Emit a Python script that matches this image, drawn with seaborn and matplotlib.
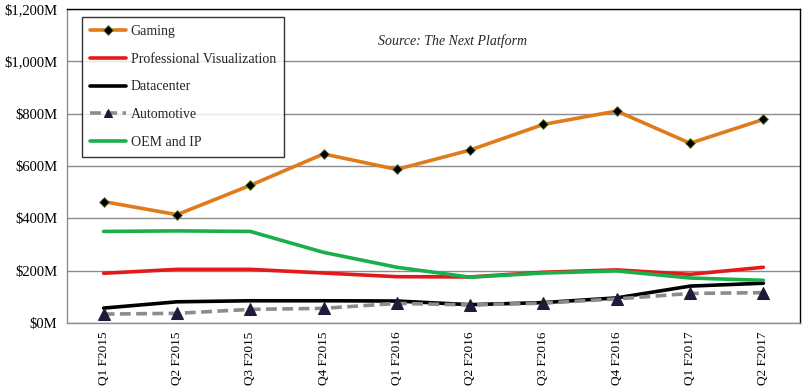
import matplotlib
matplotlib.use("Agg")
import matplotlib.pyplot as plt
import seaborn as sns
import pandas as pd

quarters = ["Q1 F2015", "Q2 F2015", "Q3 F2015", "Q4 F2015", "Q1 F2016",
            "Q2 F2016", "Q3 F2016", "Q4 F2016", "Q1 F2017", "Q2 F2017"]
gaming = [464, 414, 526, 646, 587, 661, 759, 810, 687, 778]
pro_vis = [190, 205, 205, 191, 177, 176, 194, 203, 186, 213]
datacenter = [57, 81, 85, 85, 84, 70, 78, 96, 141, 152]
automotive = [34, 37, 52, 56, 75, 69, 76, 92, 113, 116]
oem_ip = [350, 352, 350, 270, 213, 175, 191, 199, 172, 163]

series = ["Gaming", "Professional Visualization", "Datacenter", "Automotive", "OEM and IP"]
values = [gaming, pro_vis, datacenter, automotive, oem_ip]
yticks = [0, 200, 400, 600, 800, 1000, 1200]
ytick_labels = ["$0M", "$200M", "$400M", "$600M", "$800M", "$1,000M", "$1,200M"]

rows = []
for s, vals in zip(series, values):
    for i, (q, v) in enumerate(zip(quarters, vals)):
        rows.append({"series": s, "idx": i, "quarter": q, "value": v})
df = pd.DataFrame(rows)

sns.set_theme(style="white")
plt.rcParams["font.family"] = ["Liberation Serif", "DejaVu Serif"]

fig = plt.figure(figsize=(8.04, 3.89), dpi=100)
ax = fig.add_axes([67 / 804, 66 / 389, 733 / 804, 314 / 389])

colors = {"Gaming": "#E07B1C", "Professional Visualization": "#E31A1C",
          "Datacenter": "#000000", "Automotive": "#8C8C8C", "OEM and IP": "#1AAF4B"}
styles = {
    "Gaming": dict(marker="D", markersize=5, markerfacecolor="black", markeredgecolor="#6B8E23", markeredgewidth=0.6),
    "Professional Visualization": dict(),
    "Datacenter": dict(),
    "Automotive": dict(marker="^", markersize=8, markerfacecolor="#1C1C3A", markeredgecolor="#1C1C3A", dashes=(3, 1.5)),
    "OEM and IP": dict(),
}

for s in series:
    sub = df[df["series"] == s]
    kw = dict(styles[s])
    dashes = kw.pop("dashes", None)
    sns.lineplot(data=sub, x="idx", y="value", ax=ax, color=colors[s], linewidth=2.6,
                 label=s, **kw)
    if dashes is not None:
        ax.lines[-1].set_dashes(dashes)

ax.set_xlim(-0.5, 9.5)
ax.set_ylim(0, 1200)
ax.set_yticks(yticks)
ax.set_yticklabels(ytick_labels, fontsize=10.5)
ax.set_xticks(range(len(quarters)))
ax.set_xticklabels(quarters, rotation=90, fontsize=9.5)
ax.set_xlabel("")
ax.set_ylabel("")
ax.grid(axis="y", color="#8C8C8C", linewidth=1)
ax.set_axisbelow(True)
ax.tick_params(axis="y", length=5, color="#8C8C8C", pad=2, labelcolor="black")
ax.tick_params(axis="x", length=0, pad=6, labelcolor="black")
for side in ["left", "bottom"]:
    ax.spines[side].set_color("#8C8C8C")
for side in ["top", "right"]:
    ax.spines[side].set_color("black")
for sp in ax.spines.values():
    sp.set_linewidth(1)

leg = ax.legend(loc="upper left", bbox_to_anchor=((82 - 67) / 733, (323 - 17) / 314),
                frameon=True, fancybox=False, fontsize=10, handlelength=2.6,
                labelspacing=1.05, borderpad=0.6, handletextpad=0.3, borderaxespad=0)
leg.get_frame().set_edgecolor("black")
leg.get_frame().set_linewidth(1)
for h in leg.get_lines():
    if h.get_marker() == "^":
        h.set_markersize(6)

ax.text((378 - 67) / 733, (323 - 41) / 314, "Source: The Next Platform", transform=ax.transAxes,
        fontsize=10, style="italic", va="center", ha="left")

fig.savefig("out.png", dpi=100)
